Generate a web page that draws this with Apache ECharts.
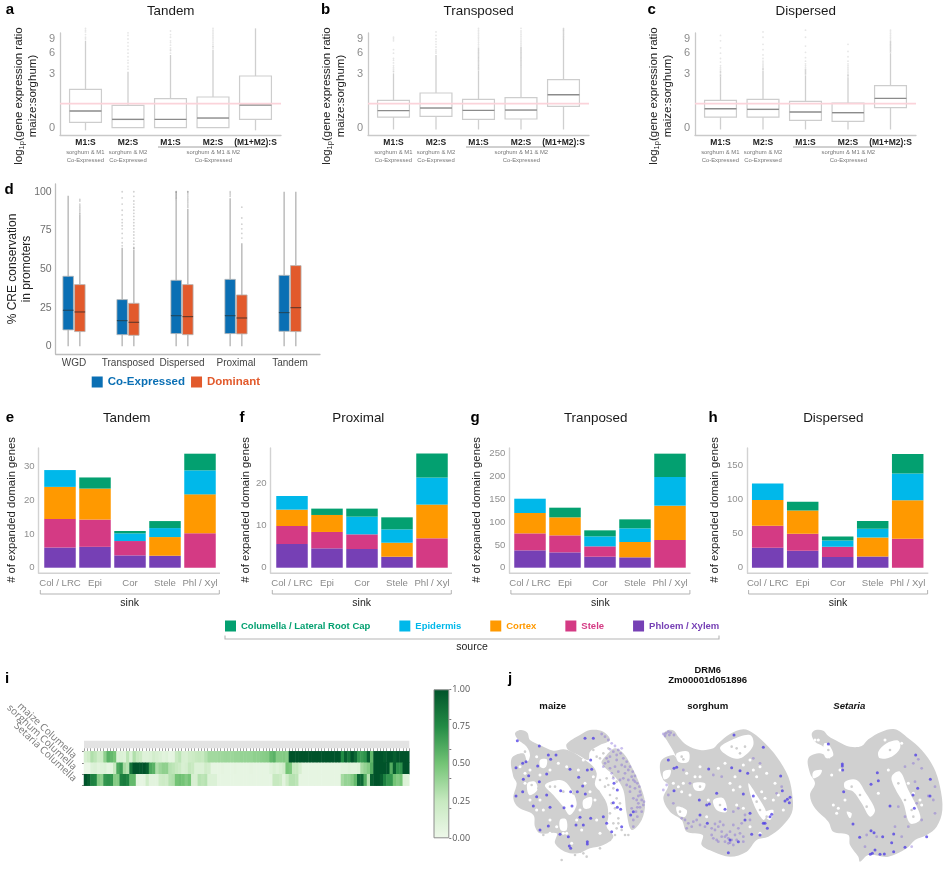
<!DOCTYPE html>
<html><head><meta charset="utf-8">
<script src="https://cdn.jsdelivr.net/npm/echarts@6/dist/echarts.min.js"></script>
<style>html,body{margin:0;padding:0;background:#fff}#c{width:948px;height:871px}</style>
</head><body><div id="c"></div>
<script>
// ---------- panels a-c: log10(1+ratio) axis units ----------
const ratioCats = ['M1:S','M2:S','M1:S','M2:S','(M1+M2):S'];
const ratioTickVals = [0,0.602,0.845,1];
const ratioTickLabels = ['0','3','6','9'];
const ratioRef = 0.271;
const boxA = [[-0.03,0.06,0.188,0.432,0.981],[0,0,0.094,0.252,0.632],[0,0,0.094,0.327,0.82],[0,0,0.109,0.346,0.876],[-0.03,0.094,0.256,0.583,1.12]];
const boxB = [[-0.02,0.12,0.192,0.308,0.613],[-0.02,0.128,0.222,0.391,0.82],[-0.02,0.094,0.195,0.32,0.643],[-0.02,0.098,0.199,0.338,0.688],[-0.02,0.241,0.372,0.541,1.0]];
const boxC = [[-0.02,0.12,0.214,0.308,0.575],[-0.02,0.12,0.207,0.32,0.64],[-0.02,0.083,0.177,0.297,0.59],[-0.02,0.071,0.169,0.278,0.57],[-0.02,0.226,0.331,0.474,0.84]];
const outA = [[1.0,1.02,1.05,1.08,1.1,1.12],[0.66,0.69,0.73,0.76,0.8,0.84,0.88,0.92,0.96,1.0,1.04,1.07],[0.84,0.87,0.88,0.9,0.93,0.96,0.98,1.02,1.05,1.09],[0.89,0.91,0.92,0.94,0.96,0.98,1.0,1.02,1.04,1.06,1.08,1.1,1.12],[]];
const outB = [[0.63,0.64,0.66,0.68,0.7,0.73,0.76,0.78,0.84,0.88,0.98,1.0,1.02],[0.84,0.86,0.88,0.91,0.94,0.97,1.0,1.04,1.08],[0.65,0.66,0.67,0.68,0.69,0.7,0.71,0.72,0.73,0.74,0.75,0.76,0.77,0.78,0.79,0.8,0.81,0.82,0.83,0.84,0.85,0.86,0.87,0.88,0.89,0.9,0.92,0.94,0.96,0.98,1.0,1.02,1.04,1.06,1.08,1.1,1.12],[0.69,0.7,0.71,0.72,0.73,0.74,0.75,0.76,0.77,0.78,0.79,0.8,0.81,0.82,0.83,0.84,0.85,0.86,0.87,0.88,0.89,0.9,0.91,0.93,0.95,0.97,0.99,1.01,1.03,1.05,1.07,1.09,1.12],[1.0,1.01,1.02,1.03,1.04,1.05,1.06,1.07,1.08,1.09,1.1,1.11,1.12]];
const outC = [[0.58,0.59,0.6,0.62,0.63,0.64,0.66,0.68,0.7,0.74,0.78,0.84,0.9,0.98,1.04],[0.65,0.66,0.67,0.69,0.71,0.73,0.75,0.78,0.82,0.88,0.94,1.02,1.08],[0.6,0.61,0.62,0.63,0.64,0.65,0.66,0.68,0.7,0.72,0.75,0.79,0.85,0.92,1.02,1.1],[0.58,0.59,0.6,0.62,0.64,0.66,0.68,0.7,0.72,0.75,0.8,0.86,0.94],[0.85,0.86,0.87,0.88,0.89,0.9,0.91,0.92,0.93,0.94,0.95,0.96,0.97,0.98,1.0,1.02,1.04,1.06,1.08,1.1]];

// ---------- panel d ----------
const creCats = ['WGD','Transposed','Dispersed','Proximal','Tandem'];
const creTicks = [0,25,50,75,100];
const boxCo = [[0,10.6,23.3,45.3,97.4],[0,7.5,16.6,30.2,63.8],[0,8.2,19.8,42.7,94.6],[0,8.2,19.8,43.3,95.7],[0,9.7,21.8,45.9,100]];
const boxDom = [[0,9.5,22.2,39.9,84.9],[0,7.1,15.5,27.8,62.3],[0,7.5,19.2,39.9,89],[0,8,18.3,33.2,66.6],[0,9.5,25,52.2,100]];
const outCo = [[],[65,67,70,73,76,78,80,82,85,88,92,96,100],[95,95.5,96,96.5,97,97.5,98,98.5,99,99.5,100,100],[97,98,99,100],[]];
const outDom = [[85.5,86,87,88,89,90,91,92,94,95],[63,63.5,64,66,68,70,72,74,76,78,80,82,84,86,88,90,92,94,97,100],[90,91,92,93,94,95,96,97,98,99,100,100],[70,73,76,79,83,90],[]];

// ---------- panels e-h: stacked from bottom ----------
const sinkCats = ['Col / LRC','Epi','Cor','Stele','Phl / Xyl'];
const tissues = ['Phloem / Xylem','Stele','Cortex','Epidermis','Columella / Lateral Root Cap'];
const tandemVals = [[6,6.2,3.66,3.56,0],[8.5,8.1,4.26,0,10.2],[9.5,9.2,0,5.54,11.58],[5,0,2.28,2.67,7.13],[0,3.3,0.7,2.08,4.95]];
const proximalVals = [[5.6,4.58,4.42,2.6,0],[4.26,3.87,3.47,0,6.95],[3.87,4.02,0,3.31,7.97],[3.23,0,4.18,3.16,6.39],[0,1.5,1.9,2.84,5.69]];
const tranposedVals = [[38,33.6,24.1,22.7,0],[37.3,37.3,22.7,0,60.7],[44.6,39.5,0,33.6,75.3],[31.4,0,21.9,30,62.9],[0,21.2,13.2,19.7,51.2]];
const dispersedVals = [[29.3,24.9,15.6,16.6,0],[32.2,24.9,15.1,0,42.4],[37.6,34.1,0,27.8,56.6],[24.4,0,9.3,12.7,39],[0,12.7,5.9,11.2,28.8]];

// ---------- panel i ----------
const heatRows = ['maize Columella','sorghum Columella','Setaria Columella'];
const heatMaize = [.15,.2,.32,.28,.2,.22,.42,.58,.55,.5,.1,.12,.1,.28,.12,.32,.25,.22,.1,.1,.12,.18,.15,.12,.08,.1,.05,.06,.24,.28,.15,.14,.2,.22,.25,.26,.25,.3,.36,.36,.36,.37,.37,.38,.38,.38,.39,.39,.4,.4,.4,.4,.42,.42,.43,.44,.45,.55,.58,.45,.45,.46,.44,1,1,1,1,1,1,1,1,1,1,1,1,1,1,1,1,.75,.95,.85,1,.9,.7,.68,.72,.95,.55,1,1,1,.97,1,1,.95,1,1,1,1];
const heatSorghum = [.02,.02,.1,.12,.08,.1,.12,.06,.08,.25,.62,.68,.35,.3,.85,1,1,.98,1,.95,.62,.58,.32,.38,.42,.42,.3,.28,.25,.22,.14,.16,.26,.24,.12,.12,.12,.2,.18,.05,.05,.05,.06,.05,.05,.05,.06,.05,.05,.05,.05,.06,.05,.05,.05,.05,.05,.1,.14,.1,.14,.2,.5,.48,.25,.25,.15,.05,.05,.05,.05,.05,.05,.05,.05,.05,.05,.05,.05,.08,.08,.1,.08,.08,.1,.35,.4,.45,.6,1,1,1,1,1,.6,.95,.72,.72,1,1];
const heatSetaria = [1,.95,.8,.78,.45,.42,.7,.72,.7,.45,.45,.8,.82,.78,.55,.55,.06,.05,.06,.2,.08,.08,.08,.2,.22,.2,.3,.32,.5,.52,.5,.45,.5,.15,.15,.3,.28,.3,.12,.12,.12,.05,.05,.05,.05,.05,.05,.05,.05,.05,.05,.05,.05,.05,.05,.05,.05,.05,.25,.25,.22,.08,.2,.3,.3,.28,.05,.05,.05,.05,.05,.05,.05,.05,.05,.05,.05,.05,.05,.35,.4,.4,.45,.55,.9,.9,.6,.3,.95,1,1,.95,.8,.7,.7,.5,.45,.5,.12,.1];
const colorbarTicks = [0,.25,.5,.75,1];

// ---------- panel j: UMAP embedding units ----------
const maizeBody = [
 [[45,40],[62,30],[82,38],[90,60],[120,75],[160,92],[190,88],[215,95],[240,110],[275,135],[290,160],[285,195],[300,215],[320,250],[325,290],[320,320],[340,350],[310,375],[270,385],[235,400],[195,395],[165,370],[170,340],[120,340],[105,320],[100,285],[55,262],[40,235],[50,190],[40,170],[35,115],[70,100],[82,125],[90,105],[80,80],[55,60]],
 [[200,72],[240,45],[270,30],[310,35],[330,60],[300,75],[270,95],[265,120],[235,105],[205,90]],
 [[305,130],[320,105],[345,85],[370,100],[395,140],[420,195],[435,250],[425,300],[395,330],[380,280],[370,210],[345,170]]];
const maizeHoles = [
 [[135,195],[180,180],[205,195],[230,250],[210,285],[190,260],[160,225]],
 [[180,300],[198,298],[200,330],[182,330]],
 [[82,190],[105,185],[112,210],[88,225]],
 [[250,240],[275,232],[272,262],[252,265]],
 [[120,120],[140,118],[138,140],[122,142]]];
const maizeGray = [[300,180],[315,200],[330,225],[310,240],[345,265],[330,280],[355,295],[340,310],[365,330],[375,345],[385,345],[350,325],[320,175],[340,205],[295,215],[300,255],[205,300],[190,215],[165,200],[150,200],[220,220],[130,210],[115,205],[95,195],[280,90],[290,110],[310,100],[210,385],[185,420],[240,395],[260,410],[300,385],[330,360],[130,345],[340,170],[350,235],[360,250],[335,250],[325,195],[350,185],[305,290],[345,345],[355,310],[300,115],[325,85],[95,110],[100,95],[75,95],[225,405],[250,400]];
const maizeSpeck = [[60,140],[90,150],[120,165],[100,200],[90,240],[75,190],[120,240],[130,270],[150,300],[170,320],[200,340],[190,340],[240,270],[260,250],[285,240],[280,170],[255,190],[175,130],[200,140],[130,140],[150,150],[110,110],[250,120],[245,330],[300,340],[60,70],[75,160],[110,270],[230,300],[290,300],[215,370],[270,215],[150,340],[235,150]];
const maizeFaint = [[305,42],[315,50],[325,60],[335,70],[345,78],[355,90],[362,100],[370,115],[380,125],[390,140],[398,155],[405,168],[395,170],[412,190],[405,205],[420,215],[415,228],[425,240],[430,255],[420,262],[408,275],[425,275],[412,290],[400,300],[340,95],[330,110],[350,120],[325,125],[345,140],[365,135],[355,155],[375,160],[330,145],[315,130],[340,175],[360,180],[380,195],[390,215],[400,235],[385,180],[370,175],[350,105],[365,85],[330,88],[410,240],[415,250],[390,200],[405,185],[320,115],[310,140],[335,160],[375,140],[385,150],[400,180],[418,200],[422,225],[432,245],[412,262],[395,265],[400,320]];
const maizeBlue = [[52,62],[118,78],[145,105],[168,105],[152,118],[78,125],[68,130],[48,143],[113,138],[210,148],[262,150],[275,148],[272,120],[280,55],[255,55],[140,162],[86,167],[70,178],[118,185],[236,172],[182,212],[212,215],[232,215],[248,198],[68,215],[48,228],[110,230],[100,258],[140,225],[192,263],[150,262],[256,222],[216,258],[340,248],[352,262],[362,268],[392,285],[400,275],[352,210],[342,190],[240,292],[272,295],[310,290],[320,310],[228,315],[250,315],[145,318],[120,330],[180,343],[205,350],[262,365],[262,372],[212,385],[208,378],[365,320],[335,335]];

const sorghumBody = [[[40,42],[55,30],[72,32],[85,50],[110,75],[150,90],[190,85],[205,70],[240,42],[280,28],[310,40],[345,70],[380,110],[415,170],[428,235],[425,280],[395,320],[355,350],[320,360],[290,395],[240,410],[190,395],[155,375],[158,345],[110,335],[95,300],[60,275],[40,235],[55,195],[40,180],[30,150],[35,120],[70,105],[80,115],[65,85],[50,60]]];
const sorghumHoles = [
 [[80,100],[115,95],[115,125],[85,125]],
 [[210,85],[245,60],[300,45],[310,75],[280,110],[250,115]],
 [[130,190],[165,190],[160,210],[135,210]],
 [[190,240],[220,235],[230,275],[200,270]],
 [[295,190],[320,225],[350,280],[340,300],[310,250]],
 [[80,260],[110,270],[105,290],[85,285]],
 [[340,280],[370,270],[360,300]],
 [[40,155],[62,150],[58,170],[42,178]]];
const sorghumGray = [[95,110],[100,118],[260,85],[285,80],[270,100],[320,245],[330,270],[150,200],[210,255],[90,275],[350,290],[245,80]];
const sorghumSpeck = [[135,170],[150,170],[240,190],[250,210],[270,200],[255,170],[300,120],[330,140],[350,160],[375,190],[385,225],[370,240],[120,225],[95,215],[70,190],[85,200],[260,255],[280,265],[175,240],[170,290],[100,190],[110,160],[205,145],[225,130],[300,320],[330,340],[150,350],[345,235],[400,270],[320,170],[310,150],[335,215],[280,135],[150,140]];
const sorghumFaint = [[40,42],[48,40],[55,35],[62,38],[45,48],[58,45],[72,45],[95,295],[105,300],[115,310],[130,305],[150,315],[165,320],[110,325],[125,320],[140,300],[185,345],[195,330],[205,320],[215,350],[225,365],[235,370],[245,360],[255,345],[270,340],[265,325],[280,350],[200,360],[215,335],[240,335],[260,360],[230,345],[250,375],[280,365],[190,355],[205,365],[220,315],[250,315],[275,310],[285,285],[265,265],[250,275],[300,300],[40,210],[55,225],[70,250],[50,195],[100,150],[190,165],[215,170],[120,190],[380,220],[330,130],[310,115],[395,200],[235,355],[225,350],[240,368],[210,305],[195,312],[185,325]];
const sorghumBlue = [[55,120],[72,145],[80,142],[72,212],[176,147],[270,152],[293,160],[245,143],[252,45],[340,82],[178,252],[170,255],[225,268],[200,220],[150,285],[172,310],[148,240],[280,222],[310,228],[345,310],[360,290],[365,283],[405,243],[412,238],[418,248],[420,232],[392,168],[397,212],[352,325],[305,343],[330,345],[340,310],[235,398],[265,365],[285,300],[240,360],[300,280]];

const setariaBody = [[[50,42],[62,30],[85,32],[100,48],[130,65],[165,80],[200,78],[220,58],[260,35],[300,28],[340,55],[380,90],[415,140],[435,200],[442,270],[425,320],[395,345],[360,360],[335,385],[280,410],[220,405],[195,425],[190,410],[165,375],[160,345],[115,335],[100,305],[60,265],[45,225],[60,190],[45,160],[40,115],[75,100],[105,115],[85,80],[60,65]]];
const setariaHoles = [
 [[88,70],[100,72],[115,105],[95,115],[85,95]],
 [[250,95],[275,70],[310,62],[315,85],[290,110],[255,115]],
 [[290,170],[315,155],[340,210],[370,270],[375,300],[345,310],[325,250],[300,205]],
 [[150,185],[185,180],[210,215],[240,270],[225,290],[200,250],[175,215],[150,205]],
 [[55,155],[80,150],[75,165],[55,175]],
 [[155,275],[170,280],[165,295]]];
const setariaGray = [[310,190],[330,240],[350,270],[195,225],[215,260],[285,90],[355,290],[170,200],[100,90]];
const setariaSpeck = [[60,60],[70,60],[115,255],[130,265],[110,165],[135,150],[340,190],[355,220],[375,240],[280,150],[270,60],[320,70],[380,255],[250,220],[150,240],[125,280]];
const setariaFaint = [[330,140],[355,130],[370,118],[380,145],[360,185],[415,240],[420,280],[310,260],[340,320],[300,320],[245,350],[215,345],[210,380],[320,350],[350,380],[380,300],[330,290],[400,228],[420,200],[365,250]];
const setariaBlue = [[100,72],[142,132],[142,138],[143,150],[247,158],[250,182],[228,193],[146,215],[285,258],[174,312],[194,352],[237,338],[263,350],[228,332],[296,342],[290,368],[296,395],[240,390],[232,400],[226,403],[255,403],[268,402],[330,382],[362,105],[406,178],[405,228],[354,225],[358,265],[368,205],[395,350]];

// ---------- styling ----------
const FONT = '"Liberation Sans", Arial, sans-serif';
const tissueColors = {'Phloem / Xylem':'#7640B5','Stele':'#D43A84','Cortex':'#FF9900','Epidermis':'#00B8EA','Columella / Lateral Root Cap':'#03A070'};
const greens = ['#eef8ea','#c7e9c0','#74c476','#238b45','#00532a'];

const grids=[], xAxes=[], yAxes=[], series=[], gfx=[];
function addGrid(g,x,y){grids.push(Object.assign({containLabel:false},g));
  x.gridIndex=y.gridIndex=grids.length-1; xAxes.push(x); yAxes.push(y); return grids.length-1;}
function txt(x,y,text,font,fill,opts){opts=opts||{};
  gfx.push({type:'text',x:x,y:y,rotation:opts.rot||0,silent:true,
    style:Object.assign({text:text,font:font,fill:fill||'#111',align:opts.align||'center',verticalAlign:'middle',lineHeight:opts.lh},opts.rich?{rich:opts.rich}:{})});}
function poly(pts,stroke,w){gfx.push({type:'polyline',silent:true,shape:{points:pts},style:{stroke:stroke,lineWidth:w,fill:null}});}
function valueX(min,max,cats,label,line){return {type:'value',min:min,max:max,
  splitLine:{show:false},axisTick:{show:false},axisLine:{onZero:false,lineStyle:{color:line.color,width:line.width}},
  axisLabel:Object.assign({customValues:cats.map((c,i)=>i+1),formatter:v=>cats[Math.round(v)-1],showMinLabel:true,showMaxLabel:true,hideOverlap:false},label)};}
function valueY(min,max,vals,labs,label,line){return {type:'value',min:min,max:max,
  splitLine:{show:false},axisTick:{show:false},axisLine:{show:true,onZero:false,lineStyle:{color:line.color,width:line.width}},
  axisLabel:Object.assign({customValues:vals,showMinLabel:true,showMaxLabel:true,formatter:v=>{const i=vals.findIndex(t=>Math.abs(t-v)<1e-6);return i<0?'':labs[i];}},label)};}
function boxSeries(gi,name,rows,xs,boxFrac,st){
  series.push({type:'custom',name:name,xAxisIndex:gi,yAxisIndex:gi,clip:false,silent:true,z:3,
    encode:{x:0,y:[1,2,3,4,5]},
    itemStyle:{color:st.fill==='none'?'#ccc':st.fill},
    data:rows.map((r,i)=>[xs[i]].concat(r)),
    renderItem:(p,api)=>{
      const x=api.value(0),P=k=>api.coord([x,api.value(k)]),hw=api.size([1,0])[0]*boxFrac/2;
      const lo=P(1),q1=P(2),md=P(3),q3=P(4),hi=P(5);
      const ln=(a,b,c,w)=>({type:'line',shape:{x1:a[0],y1:a[1],x2:b[0],y2:b[1]},style:{stroke:c,lineWidth:w}});
      return {type:'group',children:[
        ln(lo,q1,st.whisker,st.wWidth),ln(q3,hi,st.whisker,st.wWidth),
        {type:'rect',shape:{x:q1[0]-hw,y:q3[1],width:hw*2,height:q1[1]-q3[1]},style:{fill:st.fill==='none'?'rgba(255,255,255,0)':st.fill,stroke:st.border,lineWidth:st.bWidth}},
        ln([q1[0]-hw,md[1]],[q1[0]+hw,md[1]],st.median,st.mWidth)]};
    }});
}
function outlierSeries(gi,lists,xs,op,size){
  const data=[];lists.forEach((l,i)=>l.forEach(v=>data.push([xs[i],v])));
  series.push({type:'scatter',xAxisIndex:gi,yAxisIndex:gi,silent:true,clip:false,z:2,symbolSize:size,
    itemStyle:{color:'#666',opacity:op},data:data});
}

// ---------- a-c ----------
function ratioPanel(left,box,out,title,letter,letterX,nameX){
  const g=addGrid({left:left,width:221,top:33,height:102},
    valueX(0.4,5.6,ratioCats,{color:'#222',fontFamily:FONT,fontWeight:'bold',fontSize:8.5,margin:3},{color:'#c9c9c9',width:1.3}),
    valueY(-0.0823,1.0677,ratioTickVals,ratioTickLabels,{color:'#8c8c8c',fontFamily:FONT,fontSize:11,margin:5},{color:'#c9c9c9',width:1.3}));
  const xs=[1,2,3,4,5];
  outlierSeries(g,out,xs,0.16,1.8);
  boxSeries(g,title,box,xs,0.75,{fill:'none',border:'#cdcdcd',bWidth:1.2,whisker:'#cfcfcf',wWidth:1.3,median:'#8b8b8b',mWidth:1.4});
  series.push({type:'line',xAxisIndex:g,yAxisIndex:g,silent:true,showSymbol:false,z:4,lineStyle:{color:'#fbd3da',width:1.6},data:[[0.4,ratioRef],[5.6,ratioRef]]});
  txt(left+110.7,11.7,title,'13.4px '+FONT,'#1a1a1a');
  txt(letterX,10,letter,'bold 15px '+FONT,'#000');
  txt(nameX,96,'{a|log}{s|1p}{a|(gene expression ratio}\n{a|maize:sorghum)}','11.5px '+FONT,'#222',{rot:Math.PI/2,rich:{a:{font:'11.5px '+FONT,fill:'#222',lineHeight:14},s:{font:'7.5px '+FONT,fill:'#222',verticalAlign:'bottom',lineHeight:14}}});
  const sub='5.9px '+FONT;
  txt(left+25.3,156.3,'sorghum & M1\nCo-Expressed',sub,'#777',{lh:7.3});
  txt(left+68,156.3,'sorghum & M2\nCo-Expressed',sub,'#777',{lh:7.3});
  txt(left+153.3,156.3,'sorghum & M1 & M2\nCo-Expressed',sub,'#777',{lh:7.3});
  poly([[left+98,147],[left+208,147]],'#888',0.8);
}
ratioPanel(60,boxA,outA,'Tandem','a',10,26);
ratioPanel(368,boxB,outB,'Transposed','b',325.7,333.7);
ratioPanel(695,boxC,outC,'Dispersed','c',651.7,660.8);

// ---------- d ----------
const gD=addGrid({left:55.7,width:264.3,top:184,height:170},
  valueX(0.661,5.556,creCats,{color:'#444',fontFamily:FONT,fontSize:10,margin:4},{color:'#bdbdbd',width:1.3}),
  valueY(-5,105,creTicks,creTicks.map(String),{color:'#707070',fontFamily:FONT,fontSize:10.5,margin:4},{color:'#bdbdbd',width:1.3}));
const xCo=[0.892,1.892,2.892,3.892,4.892], xDom=[1.108,2.108,3.108,4.108,5.108];
outlierSeries(gD,outCo,xCo,0.3,1.8); outlierSeries(gD,outDom,xDom,0.3,1.8);
boxSeries(gD,'Co-Expressed',boxCo,xCo,0.195,{fill:'#0A6FB4',border:'#b5b5b5',bWidth:0.8,whisker:'#bcbcbc',wWidth:1.5,median:'#1f4a63',mWidth:1.2});
boxSeries(gD,'Dominant',boxDom,xDom,0.195,{fill:'#E25A2C',border:'#b5b5b5',bWidth:0.8,whisker:'#bcbcbc',wWidth:1.5,median:'#6b3a2a',mWidth:1.2});
txt(9,189.7,'d','bold 15px '+FONT,'#000');
txt(19.5,269,'% CRE conservation\nin promoters','12px '+FONT,'#222',{rot:Math.PI/2,lh:14.5});

// ---------- e-h ----------
function stackPanel(axisLeft,plotLeft,vals,ymin,ymax,ticks,title,titleX,letter,letterX,nameX){
  const g=addGrid({left:plotLeft,width:175,top:448,height:125.3},
    {type:'category',data:sinkCats,splitLine:{show:false},axisTick:{show:false},axisLine:{show:false},
     axisLabel:{color:'#8a8a8a',fontFamily:FONT,fontSize:9.6,margin:5,interval:0}},
    {type:'value',min:ymin,max:ymax,offset:plotLeft-axisLeft,splitLine:{show:false},axisTick:{show:false},
     axisLine:{show:true,onZero:false,lineStyle:{color:'#d2d2d2',width:1.4}},
     axisLabel:{customValues:ticks,color:'#8f8f8f',fontFamily:FONT,fontSize:9.6,margin:4,padding:[0,0,3,0],showMinLabel:true,showMaxLabel:true}});
  tissues.forEach((t,k)=>series.push({type:'bar',name:t,xAxisIndex:g,yAxisIndex:g,stack:'s'+g,barWidth:31.5,silent:true,
    itemStyle:{color:tissueColors[t]},data:vals[k]}));
  poly([[axisLeft,573.3],[axisLeft+181.3,573.3]],'#d2d2d2',1.4);
  txt(titleX,418.3,title,'13.4px '+FONT,'#1a1a1a');
  txt(letterX,417.5,letter,'bold 15px '+FONT,'#000');
  txt(nameX,510,'# of expanded domain genes','11.3px '+FONT,'#222',{rot:Math.PI/2});
  poly([[axisLeft+1.6,590],[axisLeft+1.6,594],[axisLeft+180.6,594],[axisLeft+180.6,590]],'#aaa',0.9);
  txt(axisLeft+91,602.7,'sink','10.5px '+FONT,'#222');
}
stackPanel(38.7,42.5,tandemVals,-1.66,35.55,[0,10,20,30],'Tandem',126.7,'e',10,12.3);
stackPanel(270.7,274.5,proximalVals,-1.32,28.3,[0,10,20],'Proximal',358.3,'f',242,245.7);
stackPanel(509.3,512.5,tranposedVals,-12.3,262.5,[0,50,100,150,200,250],'Tranposed',595.7,'g',475,477.3);
stackPanel(747,750.2,dispersedVals,-8.2,175.5,[0,50,100,150],'Dispersed',833.3,'h',713,715);
poly([[225,635.5],[225,639],[719,639],[719,635.5]],'#b5b5b5',1.1);
txt(472,647.5,'source','10.5px '+FONT,'#222');

// ---------- i heatmap ----------
const heatData=[];
[heatMaize,heatSorghum,heatSetaria].forEach((row,r)=>row.forEach((v,c)=>heatData.push([c,r,v])));
const heatCols=heatMaize.map((_,i)=>String(i+1));
const gI=addGrid({left:84,width:325.3,top:751.3,height:34.4},
  {type:'category',position:'top',data:heatCols,splitLine:{show:false},axisLine:{show:false},
   axisTick:{show:true,interval:0,length:3,lineStyle:{color:'#8a8a8a',width:0.8}},axisLabel:{show:false}},
  {type:'category',inverse:true,data:heatRows,axisLine:{show:false},splitLine:{show:false},
   axisTick:{show:true,length:2,lineStyle:{color:'#888'}},
   axisLabel:{rotate:-43,color:'#777',fontFamily:'"Open Sans", '+FONT,fontSize:10,margin:9,interval:0}});
gfx.push({type:'rect',silent:true,shape:{x:84,y:740.7,width:325.3,height:7.6},style:{fill:'#e3e3e3'}});
const heatIndex=series.length;
series.push({type:'heatmap',xAxisIndex:gI,yAxisIndex:gI,silent:true,data:heatData,progressive:0,itemStyle:{borderWidth:0}});
txt(7,679,'i','bold 15px '+FONT,'#000');
const gBar=addGrid({left:433.5,width:15.8,top:689.3,height:149},
  {type:'category',data:['scale'],show:false},
  {type:'value',position:'right',min:0,max:1,splitLine:{show:false},axisLine:{show:false},
   axisTick:{show:true,length:2,lineStyle:{color:'#777'}},
   axisLabel:{customValues:colorbarTicks,color:'#555',fontFamily:'"Open Sans", '+FONT,fontSize:9,margin:3,formatter:v=>Number(v).toFixed(2),showMinLabel:true,showMaxLabel:true}});
series.push({type:'bar',xAxisIndex:gBar,yAxisIndex:gBar,barWidth:'100%',silent:true,data:[1],
  itemStyle:{borderColor:'#8c8c8c',borderWidth:1,color:{type:'linear',x:0,y:1,x2:0,y2:0,
    colorStops:greens.map((c,i)=>({offset:i/4,color:c}))}}});

// ---------- j UMAP ----------
function umapPanel(left,body,holes,gray,speck,faint,blue){
  const g=addGrid({left:left,width:150,top:720,height:145},
    {type:'value',min:0,max:450,show:false,splitLine:{show:false}},
    {type:'value',min:0,max:435,inverse:true,show:false,splitLine:{show:false}});
  const ax={xAxisIndex:g,yAxisIndex:g,silent:true};
  const polys=(list,fill,z)=>series.push(Object.assign({type:'custom',clip:false,z:z,data:list.map((_,i)=>[i]),
    encode:{x:0},renderItem:(p,api)=>({type:'polygon',shape:{points:list[p.dataIndex].map(q=>api.coord(q)),smooth:0.35},style:{fill:fill}})},ax));
  polys(body,'#d0d0d0',1); polys(holes,'#ffffff',2);
  const dots=(d,c,op,sz,z)=>series.push(Object.assign({type:'scatter',z:z,symbolSize:sz,itemStyle:{color:c,opacity:op},data:d},ax));
  dots(speck,'#ffffff',1,3,3);
  dots(gray,'#cfcfcf',1,2.6,4);
  dots(faint,'#7b60d8',0.4,2.8,5);
  dots(blue,'#4a38e6',0.75,3,6);
}
umapPanel(500,maizeBody,maizeHoles,maizeGray,maizeSpeck,maizeFaint,maizeBlue);
umapPanel(650,sorghumBody,sorghumHoles,sorghumGray,sorghumSpeck,sorghumFaint,sorghumBlue);
umapPanel(795,setariaBody,setariaHoles,setariaGray,setariaSpeck,setariaFaint,setariaBlue);
txt(510,679,'j','bold 15px '+FONT,'#000');
txt(707.7,670,'DRM6','bold 9.3px '+FONT,'#111');
txt(707.7,680.7,'Zm00001d051896','bold 9.6px '+FONT,'#111');
txt(552.7,706.7,'maize','bold 9.6px '+FONT,'#111');
txt(707.7,706.7,'sorghum','bold 9.6px '+FONT,'#111');
txt(849.3,706.7,'Setaria','italic bold 9.6px '+FONT,'#111');

const chart=echarts.init(document.getElementById('c'),null,{renderer:'canvas',width:948,height:871});
chart.setOption({
  animation:false,backgroundColor:'#fff',
  grid:grids,xAxis:xAxes,yAxis:yAxes,series:series,
  visualMap:[{type:'continuous',show:false,min:0,max:1,seriesIndex:heatIndex,dimension:2,inRange:{color:greens}}],
  legend:[
    {left:91.7,top:376,padding:0,itemWidth:11,itemHeight:11,itemGap:6,icon:'rect',selectedMode:false,
     textStyle:{fontFamily:FONT,fontSize:11.5,fontWeight:'bold'},
     data:[{name:'Co-Expressed',textStyle:{color:'#0A6FB4'}},{name:'Dominant',textStyle:{color:'#E25A2C'}}]},
    {left:225,top:620.5,padding:0,itemWidth:11,itemHeight:11,itemGap:29,icon:'rect',selectedMode:false,
     textStyle:{fontFamily:FONT,fontSize:9.5,fontWeight:'bold'},
     data:tissues.slice().reverse().map(t=>({name:t,textStyle:{color:tissueColors[t]}}))}
  ],
  graphic:{elements:gfx}
});
</script></body></html>
